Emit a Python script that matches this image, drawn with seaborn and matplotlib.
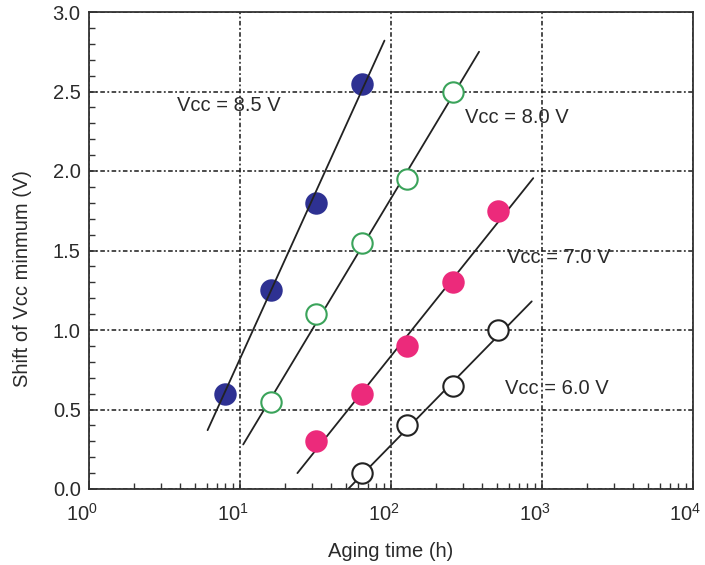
import matplotlib
matplotlib.use("Agg")
import matplotlib.pyplot as plt
import matplotlib.ticker as mticker
from matplotlib.transforms import ScaledTranslation
import numpy as np
import pandas as pd
import seaborn as sns

# Measured shift of minimum Vcc versus aging time, one series per stress voltage
series_names = ["Vcc = 8.5 V", "Vcc = 8.0 V", "Vcc = 7.0 V", "Vcc = 6.0 V"]

time_85 = [8, 16, 32, 64]
shift_85 = [0.60, 1.25, 1.80, 2.55]

time_80 = [16, 32, 64, 128, 256]
shift_80 = [0.55, 1.10, 1.55, 1.95, 2.50]

time_70 = [32, 64, 128, 256, 512]
shift_70 = [0.30, 0.60, 0.90, 1.30, 1.75]

time_60 = [64, 128, 256, 512]
shift_60 = [0.10, 0.40, 0.65, 1.00]

# Straight-line trends (linear in log time): start/end time and shift
trend_t_start = [6.1, 10.5, 24.0, 52.0]
trend_t_end = [90.5, 383.0, 875.0, 855.0]
trend_y_start = [0.37, 0.28, 0.10, 0.00]
trend_y_end = [2.82, 2.75, 1.955, 1.18]

# Label placement for each series (time, shift)
label_t = [3.81, 308.0, 582.0, 567.0]
label_y = [2.415, 2.336, 1.453, 0.629]

# Axis ticks
x_ticks = [1, 10, 100, 1000, 10000]
x_tick_labels = [r"$10^{0}$", r"$10^{1}$", r"$10^{2}$", r"$10^{3}$", r"$10^{4}$"]
y_ticks = [0.0, 0.5, 1.0, 1.5, 2.0, 2.5, 3.0]
y_tick_labels = ["0.0", "0.5", "1.0", "1.5", "2.0", "2.5", "3.0"]

face_colors = ["#2e3192", "white", "#ec2a7b", "white"]
edge_colors = ["#2e3192", "#3aa35a", "#ec2a7b", "#222222"]

sns.set_theme(style="white")
plt.rcParams["font.family"] = ["Liberation Sans", "DejaVu Sans"]
plt.rcParams["mathtext.fontset"] = "custom"
plt.rcParams["mathtext.rm"] = "Liberation Sans"
plt.rcParams["mathtext.it"] = "Liberation Sans"
plt.rcParams["mathtext.default"] = "regular"

text_color = "#2a2a2a"
fs = 14.5

points = pd.DataFrame({
    "series": sum([[n] * len(t) for n, t in zip(series_names, [time_85, time_80, time_70, time_60])], []),
    "time": time_85 + time_80 + time_70 + time_60,
    "shift": shift_85 + shift_80 + shift_70 + shift_60,
})
trends = pd.DataFrame({
    "series": [n for n in series_names for _ in range(2)],
    "time": [v for pair in zip(trend_t_start, trend_t_end) for v in pair],
    "shift": [v for pair in zip(trend_y_start, trend_y_end) for v in pair],
})

fig = plt.figure(figsize=(7.05, 5.65), dpi=100)
ax = fig.add_axes([89 / 705, 76 / 565, 604 / 705, 477 / 565])
ax.set_xscale("log")

# Trend lines
for name in series_names:
    d = trends[trends["series"] == name]
    sns.lineplot(data=d, x="time", y="shift", ax=ax, color="#222222",
                 linewidth=1.3, zorder=3, legend=False, sort=False)

# Measured points
for i, name in enumerate(series_names):
    d = points[points["series"] == name]
    sns.scatterplot(data=d, x="time", y="shift", ax=ax, s=215, marker="o",
                    color=face_colors[i], edgecolor=edge_colors[i],
                    linewidth=1.5, zorder=2.5 if i == 0 else 4, legend=False,
                    clip_on=False)

for i, name in enumerate(series_names):
    ax.text(label_t[i], label_y[i], name, ha="left", va="center",
            fontsize=fs, color=text_color, zorder=5)

ax.set_xlim(1, 10000)
ax.set_ylim(0, 3.0)

ax.xaxis.set_major_locator(mticker.FixedLocator(x_ticks))
ax.xaxis.set_major_formatter(mticker.FixedFormatter(x_tick_labels))
ax.xaxis.set_minor_locator(mticker.LogLocator(base=10, subs=np.arange(2, 10), numticks=20))
ax.xaxis.set_minor_formatter(mticker.NullFormatter())
ax.yaxis.set_major_locator(mticker.FixedLocator(y_ticks))
ax.yaxis.set_major_formatter(mticker.FixedFormatter(y_tick_labels))
ax.yaxis.set_minor_locator(mticker.MultipleLocator(0.1))

ax.tick_params(which="both", direction="in", colors="#333333", labelcolor=text_color,
               labelsize=fs, top=False, right=False, left=True, bottom=True)
ax.tick_params(which="major", length=6, width=1.1)
ax.tick_params(which="minor", length=4, width=1.0)
ax.tick_params(axis="x", which="major", pad=10)
ax.tick_params(axis="y", which="major", pad=6)

for sp in ax.spines.values():
    sp.set_visible(True)
    sp.set_color("#333333")
    sp.set_linewidth(1.3)

ax.set_axisbelow(True)
ax.grid(True, which="major", color="#1a1a1a", linewidth=1.1,
        linestyle=(0, (3, 1.6, 1.2, 1.6)))

ax.set_xlabel("Aging time (h)", fontsize=fs, color=text_color)
ax.set_ylabel("Shift of Vcc minmum (V)", fontsize=fs, color=text_color)
ax.xaxis.set_label_coords(0.5, -0.112)
ax.yaxis.set_label_coords(-0.094, 0.442)

# Shift power-of-ten labels so the "10" sits left of its tick
shift_left = ScaledTranslation(-7.5 / 100, 0, fig.dpi_scale_trans)
for lab in ax.get_xticklabels():
    lab.set_transform(lab.get_transform() + shift_left)

fig.savefig("out.png", dpi=100)
